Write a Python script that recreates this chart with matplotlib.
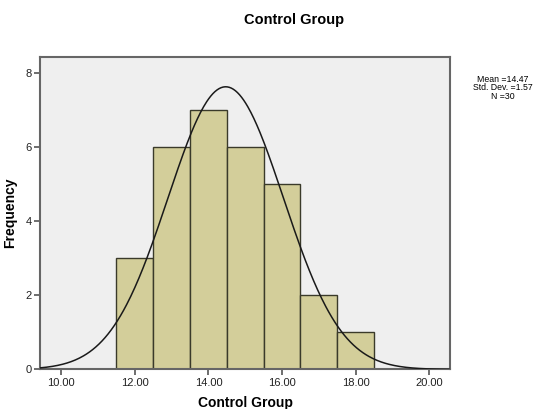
import numpy as np
import matplotlib
matplotlib.use("Agg")
import matplotlib.pyplot as plt

bin_edges = [11.5, 12.5, 13.5, 14.5, 15.5, 16.5, 17.5, 18.5]
counts = [3, 6, 7, 6, 5, 2, 1]
mean_val = 14.47
sd_val = 1.57
n_val = 30
x_ticks = [10, 12, 14, 16, 18, 20]
x_tick_labels = ["10.00", "12.00", "14.00", "16.00", "18.00", "20.00"]
y_ticks = [0, 2, 4, 6, 8]

plt.rcParams['font.family'] = ['Liberation Sans', 'DejaVu Sans']

fig = plt.figure(figsize=(5.57, 4.09), dpi=100)
ax = fig.add_axes([0.0724, 0.0966, 0.7356, 0.7644])
ax.set_facecolor('#EFEFEF')

lefts = bin_edges[:-1]
widths = np.diff(bin_edges)
ax.bar(lefts, counts, width=widths, align='edge', color='#D3CE9A',
       edgecolor='#3a3a2a', linewidth=1.0, zorder=2)

xs = np.linspace(9.43, 20.57, 400)
bw = widths[0]
ys = n_val * bw / (sd_val * np.sqrt(2 * np.pi)) * np.exp(-0.5 * ((xs - mean_val) / sd_val) ** 2)
ax.plot(xs, ys, color='#1a1a1a', linewidth=1.1, zorder=3)

ax.set_xlim(9.43, 20.57)
ax.set_ylim(0, 8.43)
ax.set_xticks(x_ticks)
ax.set_xticklabels(x_tick_labels)
ax.set_yticks(y_ticks)
ax.tick_params(axis='both', direction='out', length=4, width=1.2, color='#555555',
               labelsize=8, labelcolor='#222222', pad=2)
for s in ax.spines.values():
    s.set_color('#666666')
    s.set_linewidth(1.5)

ax.set_xlabel('Control Group', fontsize=10, fontweight='bold', labelpad=6)
ax.set_ylabel('Frequency', fontsize=10, fontweight='bold', labelpad=6)
fig.text(0.528, 0.951, 'Control Group', fontsize=10.5, fontweight='bold',
         ha='center', va='center')
fig.text(0.903, 0.785, 'Mean =14.47\nStd. Dev. =1.57\nN =30', fontsize=6.3,
         ha='center', va='center', multialignment='center', linespacing=0.95)

fig.savefig('out.png', dpi=100)
